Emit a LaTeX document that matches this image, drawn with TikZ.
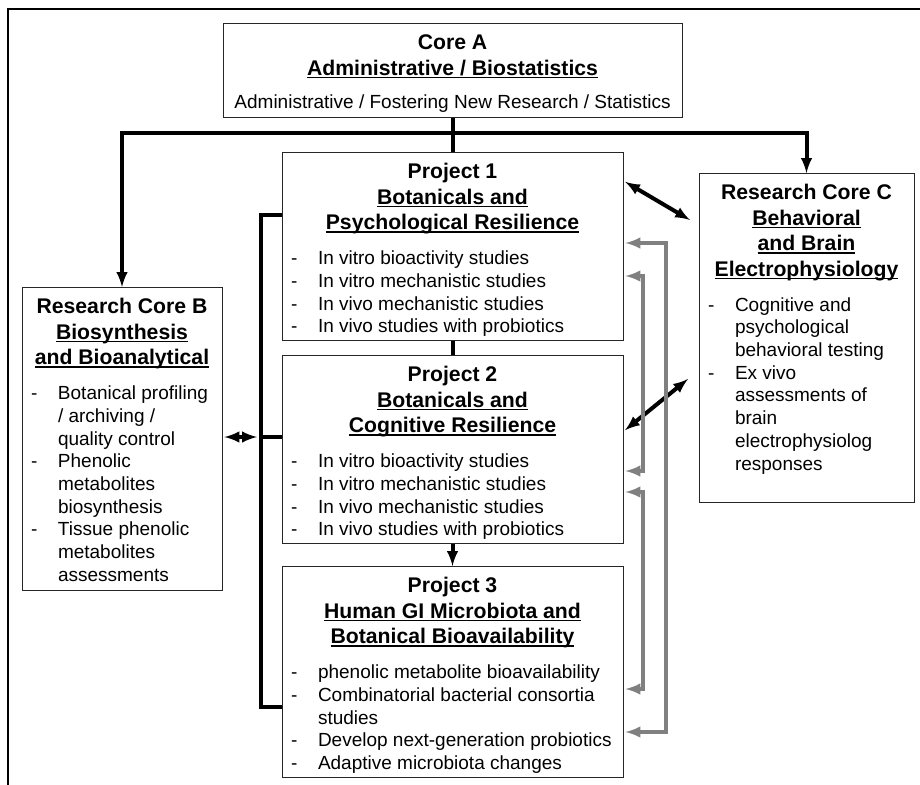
\documentclass[tikz,border=0pt]{standalone}
\usepackage{fontspec}
\setmainfont{Liberation Sans}
\usepackage{tikz}
\usetikzlibrary{arrows}
\usetikzlibrary{positioning}
\definecolor{linkgray}{RGB}{128,128,128}
\newcommand\hd{\fontsize{21.2}{25.4}\selectfont\bfseries\spaceskip=0pt\xspaceskip=0pt}
\newcommand\bd{\fontsize{19}{22.7}\selectfont\spaceskip=0pt\xspaceskip=0pt\hyphenpenalty=10000\rightskip=0pt plus 1fil}
\newcommand\undl[1]{\leavevmode\setbox0\hbox{#1}\rlap{\rule[-3pt]{\wd0}{1.6pt}}\box0}
\newcommand\itm[1]{\hangindent=27pt\hangafter=1\noindent\makebox[27pt][l]{-}#1\par}
\newcommand\gap{\par\vspace{12.3pt}}

\begin{document}
\begin{tikzpicture}[x=1pt, y=-1pt,
  unitbox/.style={rectangle, draw=black!85, line width=0.9pt, fill=white, anchor=north,
    inner xsep=9pt, inner ysep=0pt, text height=26.5pt, align=left},
  conn/.style={line width=4pt, draw=black},
  gconn/.style={line width=4pt, draw=linkgray, latex-latex, shorten <=2pt, shorten >=2pt}]
 \useasboundingbox (0, 0) rectangle (920, 784);
 \draw [line width=2.5pt] (8, 9) rectangle (940, 800);

 \node [unitbox, text width=441pt, text depth=67.5pt] (A) at (452.5, 23)
  {\bd{\hd\centering Core A\\ \undl{Administrative / Biostatistics}\par}\vspace{10.3pt}\centering Administrative / Fostering New Research / Statistics\par};
 \node [unitbox, text width=323pt, text depth=161.5pt] (P1) at (452.5, 152)
  {\bd{\hd\centering Project 1\\ \undl{Botanicals and}\\ \undl{Psychological Resilience}\par}\gap
   \itm{In vitro bioactivity studies}\itm{In vitro mechanistic studies}\itm{In vivo mechanistic studies}\itm{In vivo studies with probiotics}};
 \node [unitbox, text width=323pt, text depth=161.5pt] (P2) at (452.5, 355)
  {\bd{\hd\centering Project 2\\ \undl{Botanicals and}\\ \undl{Cognitive Resilience}\par}\gap
   \itm{In vitro bioactivity studies}\itm{In vitro mechanistic studies}\itm{In vivo mechanistic studies}\itm{In vivo studies with probiotics}};
 \node [unitbox, text width=323pt, text depth=184.5pt] (P3) at (452.5, 566)
  {\bd{\hd\centering Project 3\\ \undl{Human GI Microbiota and}\\ \undl{Botanical Bioavailability}\par}\gap
   \itm{phenolic metabolite bioavailability}\itm{Combinatorial bacterial consortia\newline studies}\itm{Develop next-generation probiotics}\itm{Adaptive microbiota changes}};
 \node [unitbox, text width=182pt, text depth=276.5pt] (B) at (122, 287)
  {\bd{\hd\centering Research Core B\\ \undl{Biosynthesis}\\ \undl{and Bioanalytical}\par}\gap
   \itm{Botanical profiling\newline / archiving /\newline quality control}\itm{Phenolic\newline metabolites\newline biosynthesis}\itm{Tissue phenolic\newline metabolites\newline assessments}};
 \node [unitbox, text width=197pt, text depth=302.5pt] (C) at (806.5, 173)
  {\bd{\hd\centering Research Core C\\ \undl{Behavioral}\\ \undl{and Brain}\\ \undl{Electrophysiology}\par}\gap
   \itm{Cognitive and\newline psychological\newline behavioral testing}\itm{Ex vivo\newline assessments of\newline brain\newline electrophysiolog\newline responses}};

 \coordinate (bar) at (452.5, 133);
 \coordinate (bus1) at (261, 215);
 \coordinate (bus2) at (261, 437);
 \coordinate (bus3) at (261, 707);
 \coordinate (c1) at (690, 220);
 \coordinate (c2) at (688, 379);
 \coordinate (g1) at (666, 243);
 \coordinate (g2) at (666, 732);
 \coordinate (g3) at (643, 276);
 \coordinate (g4) at (643, 471);
 \coordinate (g5) at (643, 492);
 \coordinate (g6) at (643, 689);

 \draw [conn] (A.south) to (P1.north);
 \draw [conn, -latex] (bar) -| (B.north);
 \draw [conn, -latex] (bar) -| (C.north);
 \draw [conn] (P1.south) to (P2.north);
 \draw [conn, -latex] (P2.south) to (P3.north);
 \draw [conn] (P1.west |- bus1) -- (bus1) -- (bus3) -- (P3.west |- bus3);
 \draw [conn] (bus2) to (P2.west |- bus2);
 \draw [conn, latex-latex, shorten <=2pt, shorten >=4pt] (B.east |- bus2) to (bus2);
 \draw [conn, latex-latex, shorten <=2pt] (P1.21) to (c1);
 \draw [conn, latex-latex, shorten <=2pt] (P2.6) to (c2);
 \draw [gconn] (P1.east |- g1) -- (g1) -- (g2) -- (P3.east |- g2);
 \draw [gconn] (P1.east |- g3) -- (g3) -- (g4) -- (P2.east |- g4);
 \draw [gconn] (P2.east |- g5) -- (g5) -- (g6) -- (P3.east |- g6);
\end{tikzpicture}
\end{document}
